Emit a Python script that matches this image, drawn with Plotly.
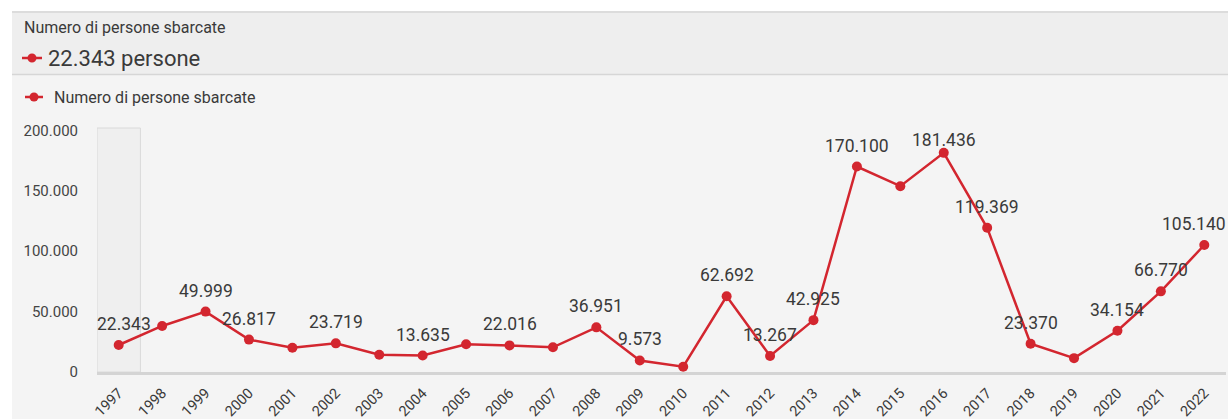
import plotly.graph_objects as go

# Persone sbarcate in Italia per anno
years = [1997, 1998, 1999, 2000, 2001, 2002, 2003, 2004, 2005, 2006, 2007, 2008, 2009,
         2010, 2011, 2012, 2013, 2014, 2015, 2016, 2017, 2018, 2019, 2020, 2021, 2022]
sbarcati = [22343, 38134, 49999, 26817, 20143, 23719, 14331, 13635, 22939, 22016, 20455,
            36951, 9573, 4406, 62692, 13267, 42925, 170100, 153842, 181436, 119369,
            23370, 11471, 34154, 66770, 105140]
# anni con etichetta di valore
labelled_years = [1997, 1999, 2000, 2002, 2004, 2006, 2008, 2009, 2011, 2012, 2013,
                  2014, 2016, 2017, 2018, 2020, 2021, 2022]
y_ticks = [0, 50000, 100000, 150000, 200000]
series_name = "Numero di persone sbarcate"
selected_year = 1997

RED = "#d3262f"
TEXT = "#3a3a3a"
FONT = "Roboto, 'Liberation Sans', Arial, sans-serif"
LABEL_SIZE = 17.5


def it_num(v):
    return f"{v:,}".replace(",", ".")


# plot area geometry (pixels)
W, H = 1228, 419
L, R, T, B = 97, 2, 128, 47
PW, PH = W - L - R, H - T - B
X_RANGE = [years[0] - 0.5, years[-1] + 0.5]
Y_RANGE = [0, 202000]


def px(p):
    return (p - L) / PW


def py(p):
    return (H - B - p) / PH


fig = go.Figure()
fig.add_trace(go.Scatter(
    x=years, y=sbarcati, mode="lines+markers",
    name=series_name,
    line=dict(color=RED, width=2.5),
    marker=dict(color=RED, size=10),
    cliponaxis=False, hoverinfo="skip", showlegend=False,
))

# value labels above the points, kept inside the plot area
annotations = []
for yr, v in zip(years, sbarcati):
    if yr not in labelled_years:
        continue
    txt = it_num(v)
    half_w = (sum(0.26 if c == "." else 0.562 for c in txt) * LABEL_SIZE) / 2
    cx = L + (yr - X_RANGE[0]) / (X_RANGE[1] - X_RANGE[0]) * PW
    cy = T + PH * (1 - v / Y_RANGE[1])
    xshift = 0.0
    if cx - half_w < L:
        xshift = L - (cx - half_w)
    elif cx + half_w > W - R:
        xshift = (W - R) - (cx + half_w)
    yshift = min(21.0, cy - 140)
    annotations.append(dict(
        text=txt, x=yr, y=v, xref="x", yref="y", showarrow=False,
        xanchor="center", yanchor="middle", xshift=xshift, yshift=yshift,
        font=dict(family=FONT, size=LABEL_SIZE, color=TEXT),
    ))

sel_value = sbarcati[years.index(selected_year)]

shapes = [
    # card body
    dict(type="rect", xref="paper", yref="paper", x0=px(12), x1=px(W), y0=py(H), y1=py(75),
         fillcolor="#f4f4f4", line=dict(width=0), layer="below"),
    # header strip
    dict(type="rect", xref="paper", yref="paper", x0=px(12), x1=px(W), y0=py(75), y1=py(11),
         fillcolor="#eeeeee", line=dict(width=0), layer="below"),
    dict(type="line", xref="paper", yref="paper", x0=px(12), x1=px(W), y0=py(12), y1=py(12),
         line=dict(color="#dcdcdc", width=2), layer="below"),
    dict(type="line", xref="paper", yref="paper", x0=px(12), x1=px(W), y0=py(74.5), y1=py(74.5),
         line=dict(color="#d6d6d6", width=1.5), layer="below"),
    # highlighted category band
    dict(type="rect", xref="x", yref="paper", x0=selected_year - 0.5, x1=selected_year + 0.5,
         y0=0, y1=1, fillcolor="#efefef", line=dict(color="#dadada", width=1), layer="below"),
]

# series icons (header + legend)
for cx, cy, x0, x1 in [(32, 58, 22, 42), (34, 97, 25, 43)]:
    shapes.append(dict(type="line", xref="paper", yref="paper", x0=px(x0), x1=px(x1),
                       y0=py(cy), y1=py(cy), line=dict(color=RED, width=2.5)))
    shapes.append(dict(type="circle", xref="paper", yref="paper",
                       x0=px(cx - 4.5), x1=px(cx + 4.5), y0=py(cy - 4.5), y1=py(cy + 4.5),
                       fillcolor=RED, line=dict(width=0)))

annotations += [
    dict(text=series_name, xref="paper", yref="paper", x=px(22), y=py(27),
         xanchor="left", yanchor="middle", showarrow=False,
         font=dict(family=FONT, size=16, color=TEXT)),
    dict(text=f"{it_num(sel_value)} persone", xref="paper", yref="paper", x=px(46), y=py(58),
         xanchor="left", yanchor="middle", showarrow=False,
         font=dict(family=FONT, size=22, color=TEXT)),
    dict(text=series_name, xref="paper", yref="paper", x=px(52), y=py(97),
         xanchor="left", yanchor="middle", showarrow=False,
         font=dict(family=FONT, size=16, color=TEXT)),
]

fig.update_layout(
    width=W, height=H, autosize=False,
    margin=dict(l=L, r=R, t=T, b=B, pad=0),
    paper_bgcolor="#ffffff", plot_bgcolor="rgba(0,0,0,0)",
    separators=",.",
    font=dict(family=FONT, color=TEXT),
    shapes=shapes, annotations=annotations,
    showlegend=False,
    xaxis=dict(
        range=X_RANGE, tickvals=years, ticktext=[str(y) for y in years],
        tickangle=-45, showgrid=False, zeroline=False,
        showline=True, linecolor="#d4d4d4", linewidth=3,
        ticks="", ticklabelstandoff=4, automargin=False,
        tickfont=dict(family=FONT, size=14.5, color=TEXT),
        fixedrange=True,
    ),
    yaxis=dict(
        range=Y_RANGE, tickvals=y_ticks, tickformat=",d",
        showgrid=False, zeroline=False, showline=False, ticks="",
        ticklabelstandoff=18, automargin=False,
        tickfont=dict(family=FONT, size=15, color="#444444"),
        fixedrange=True,
    ),
)

fig.write_html("out.html", config={"displayModeBar": False})
